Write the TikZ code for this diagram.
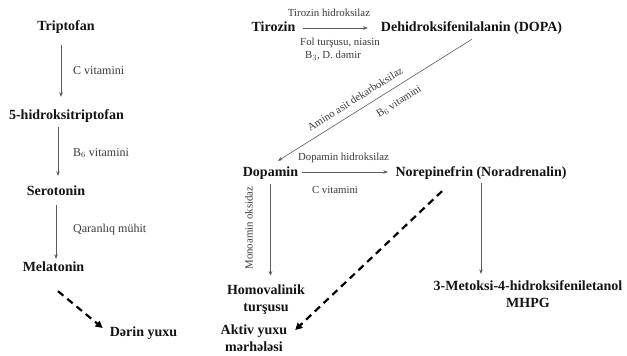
\documentclass[tikz,border=0pt]{standalone}
\usepackage{fontspec}
\setmainfont{Liberation Serif}
\usetikzlibrary{arrows.meta}
\definecolor{lblgray}{HTML}{3A3A3A}
\definecolor{linegray}{HTML}{5A5A5A}
\begin{document}
\begin{tikzpicture}[x=1pt,y=-1pt,
  chem/.style={inner sep=0pt,font=\fontsize{14}{17}\selectfont\bfseries,text=black!92,text height=9.6pt,text depth=3pt},
  chemm/.style={inner sep=0pt,font=\fontsize{14}{17}\selectfont\bfseries,text=black!92,align=center},
  lblL/.style={inner sep=0pt,font=\fontsize{12}{14}\selectfont,text=lblgray},
  lblR/.style={inner sep=0pt,font=\fontsize{10.8}{13}\selectfont,text=lblgray},
  arr/.style={draw=linegray,line width=0.6pt,-{Stealth[length=4.5pt,width=3.5pt]}},
  darr/.style={draw=black,line width=2.2pt,dash pattern=on 7pt off 5pt,-{Triangle[length=7pt,width=7pt]}}]
\useasboundingbox[fill=white] (0,0) rectangle (627,356);
% left column
\node[chem] (trip) at (66,27) {Triptofan};
\node[chem] (hyd) at (66.5,116) {5-hidroksitriptofan};
\node[chem] (ser) at (56,192) {Serotonin};
\node[chem] (mel) at (53.5,268) {Melatonin};
\node[chem] (derin) at (143.5,333) {Dərin yuxu};
\node[lblL,anchor=west] (l1) at (73,71) {C vitamini};
\node[lblL,anchor=west] (l2) at (73,153) {B$_6$ vitamini};
\node[lblL,anchor=west] (l3) at (73,230) {Qaranlıq mühit};
\draw[arr,shorten <=11.7pt,shorten >=12.7pt] ([xshift=-5pt]trip.south) -- ([xshift=-5pt]trip.south |- hyd.north);
\draw[arr,shorten <=4.7pt,shorten >=9.7pt] ([xshift=-8.5pt]hyd.south) -- ([xshift=-8.5pt]hyd.south |- ser.north);
\draw[arr,shorten <=6.7pt,shorten >=2.7pt] (ser.south) -- (ser.south |- mel.north);
\draw[darr] ([xshift=4.5pt,yshift=-16.7pt]mel.south) -- ([xshift=-7pt,yshift=5pt]derin.west);
% right part
\node[chem] (tir) at (273.5,28) {Tirozin};
\node[chem] (dopa) at (471.5,28) {Dehidroksifenilalanin (DOPA)};
\node[chem] (dop) at (270.5,173) {Dopamin};
\node[chem] (nor) at (481,173) {Norepinefrin (Noradrenalin)};
\node[chemm] (homov) at (266,300) {Homovalinik\\turşusu};
\node[chemm] (aktiv) at (254,338) {Aktiv yuxu\\mərhələsi};
\node[chemm] (mhpg) at (528,294) {3-Metoksi-4-hidroksifeniletanol\\MHPG};
\node[lblR] (r1) at (329,13) {Tirozin hidroksilaz};
\node[lblR] (r2) at (340,43) {Fol turşusu, niasin};
\node[lblR] (r3) at (333,56) {B$_3$, D. dəmir};
\node[lblR,rotate=32.2] (r4) at (355,99) {Amino asit dekarboksilaz};
\node[lblR,rotate=32.2] (r5) at (399,102) {B$_6$ vitamini};
\node[lblR] (r6) at (343.5,158) {Dopamin hidroksilaz};
\node[lblR] (r7) at (335,190) {C vitamini};
\node[lblR,rotate=90] (r8) at (249,228) {Monoamin oksidaz};
\draw[arr] ([xshift=7pt]tir.east) -- ([xshift=-13pt]dopa.west);
\draw[arr] ([xshift=0.5pt,yshift=-4.7pt]dopa.south) -- ([xshift=7.5pt,yshift=5.7pt]dop.north);
\draw[arr] ([xshift=4pt,yshift=1pt]dop.east) -- ([xshift=-7.5pt,yshift=1pt]nor.west);
\draw[arr,shorten <=4.7pt,shorten >=9.4pt] (dop.south) -- (dop.south |- homov.north);
\draw[arr,shorten <=3.7pt,shorten >=6.4pt] (nor.south) -- (nor.south |- mhpg.north);
\draw[darr] ([xshift=-39pt,yshift=-11.7pt]nor.south) -- ([xshift=7.75pt,yshift=-5.6pt]aktiv.north east);
\end{tikzpicture}
\end{document}
